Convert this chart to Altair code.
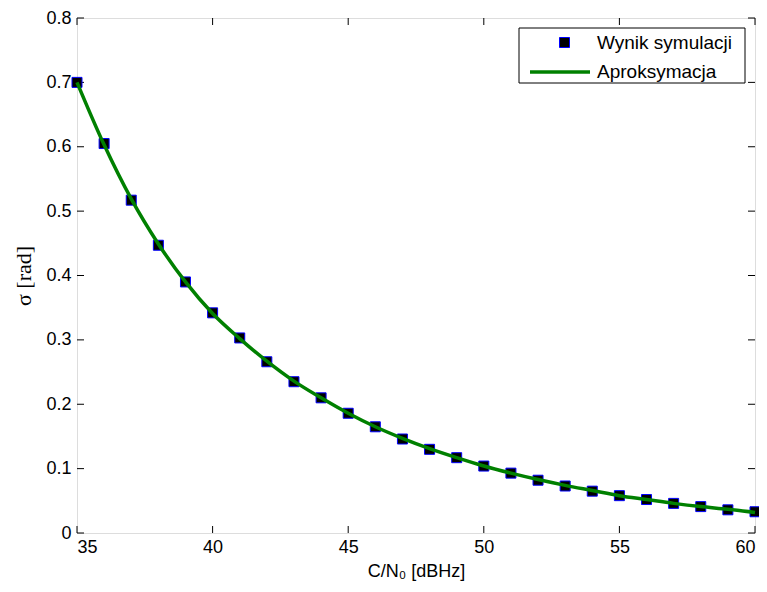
import altair as alt
import pandas as pd

cn0 = list(range(35, 61))
sim = [0.700, 0.605, 0.517, 0.447, 0.390, 0.342, 0.303, 0.266, 0.235, 0.210,
       0.186, 0.165, 0.146, 0.130, 0.117, 0.104, 0.093, 0.082, 0.073, 0.065,
       0.058, 0.052, 0.046, 0.041, 0.036, 0.033]
approx = [0.700, 0.603, 0.519, 0.449, 0.390, 0.341, 0.302, 0.267, 0.236, 0.210,
          0.186, 0.165, 0.147, 0.131, 0.117, 0.104, 0.093, 0.083, 0.074, 0.066,
          0.058, 0.052, 0.046, 0.041, 0.037, 0.032]
x_ticks = [35, 40, 45, 50, 55, 60]
y_ticks = [0, 0.1, 0.2, 0.3, 0.4, 0.5, 0.6, 0.7, 0.8]
series = ["Wynik symulacji", "Aproksymacja"]

W, H = 678, 515
FONT = "Liberation Sans"

df_sim = pd.DataFrame({"x": cn0, "y": sim, "s": series[0]})
df_app = pd.DataFrame({"x": cn0, "y": approx, "s": series[1]})
df_xt = pd.DataFrame({"x": x_ticks})
df_yt = pd.DataFrame({"y": y_ticks})

xs = alt.Scale(domain=[35, 60], nice=False, zero=False)
ys = alt.Scale(domain=[0, 0.8], nice=False)

legend_a = alt.Legend(
    title=None, orient="none", legendX=478, legendY=15, padding=0,
    labelFont=FONT, labelFontSize=19, labelColor="black",
    symbolType="square", symbolSize=100, symbolFillColor="black",
    symbolStrokeColor="blue", symbolStrokeWidth=1, symbolOpacity=1,
    labelOffset=23, labelLimit=300,
)
legend_b = alt.Legend(
    title=None, orient="none", legendX=451, legendY=22, padding=0,
    labelFont=FONT, labelFontSize=19, labelColor="black",
    symbolType="stroke", symbolSize=3600, symbolStrokeWidth=3.5,
    symbolStrokeColor="#008000", symbolOpacity=1,
    labelOffset=5, labelLimit=300,
)

xaxis = alt.Axis(values=x_ticks, format="d", domain=False, ticks=False, grid=False,
                 labelFont=FONT, labelFontSize=18, labelColor="black", labelPadding=5,
                 title="C/N₀ [dBHz]", titleFont=FONT, titleFontSize=18,
                 titleFontWeight="normal", titleColor="black", titlePadding=6)
yaxis = alt.Axis(values=y_ticks, format="~g", domain=False, ticks=False, grid=False,
                 labelFont=FONT, labelFontSize=18, labelColor="black", labelPadding=6,
                 title="σ [rad]", titleFont="Liberation Serif", titleFontSize=22,
                 titleFontWeight="normal", titleColor="black", titlePadding=10)

points = alt.Chart(df_sim).mark_point(filled=True, opacity=1, strokeWidth=1, stroke="blue",
                                      shape="square", size=100).encode(
    x=alt.X("x:Q", scale=xs, axis=xaxis),
    y=alt.Y("y:Q", scale=ys, axis=yaxis),
    fill=alt.Fill("s:N", scale=alt.Scale(domain=[series[0]], range=["black"]), legend=legend_a),
)

line = alt.Chart(df_app).mark_line(strokeWidth=3.5, interpolate="monotone").encode(
    x=alt.X("x:Q", scale=xs),
    y=alt.Y("y:Q", scale=ys),
    stroke=alt.Stroke("s:N", scale=alt.Scale(domain=[series[1]], range=["#008000"]), legend=legend_b),
)

frame = alt.Chart(pd.DataFrame({"k": [0]})).mark_rect(
    fill="white", stroke="black", strokeWidth=1).encode(
    x=alt.value(442), x2=alt.value(668), y=alt.value(10), y2=alt.value(65))

tick_len = 7
xt_bot = alt.Chart(df_xt).mark_rule(color="black", strokeWidth=1).encode(
    x=alt.X("x:Q", scale=xs), y=alt.value(H), y2=alt.value(H - tick_len))
xt_top = alt.Chart(df_xt).mark_rule(color="black", strokeWidth=1).encode(
    x=alt.X("x:Q", scale=xs), y=alt.value(0), y2=alt.value(tick_len))
yt_left = alt.Chart(df_yt).mark_rule(color="black", strokeWidth=1).encode(
    y=alt.Y("y:Q", scale=ys), x=alt.value(0), x2=alt.value(tick_len))
yt_right = alt.Chart(df_yt).mark_rule(color="black", strokeWidth=1).encode(
    y=alt.Y("y:Q", scale=ys), x=alt.value(W), x2=alt.value(W - tick_len))

chart = alt.layer(xt_bot, xt_top, yt_left, yt_right, points, line, frame).properties(
    width=W, height=H,
    padding={"left": 69, "top": 10, "right": 4, "bottom": 51},
    autosize="none",
).configure_view(stroke="black", strokeWidth=1).configure(background="white")

chart.save("out.html", embed_options={"renderer": "svg", "actions": False})
